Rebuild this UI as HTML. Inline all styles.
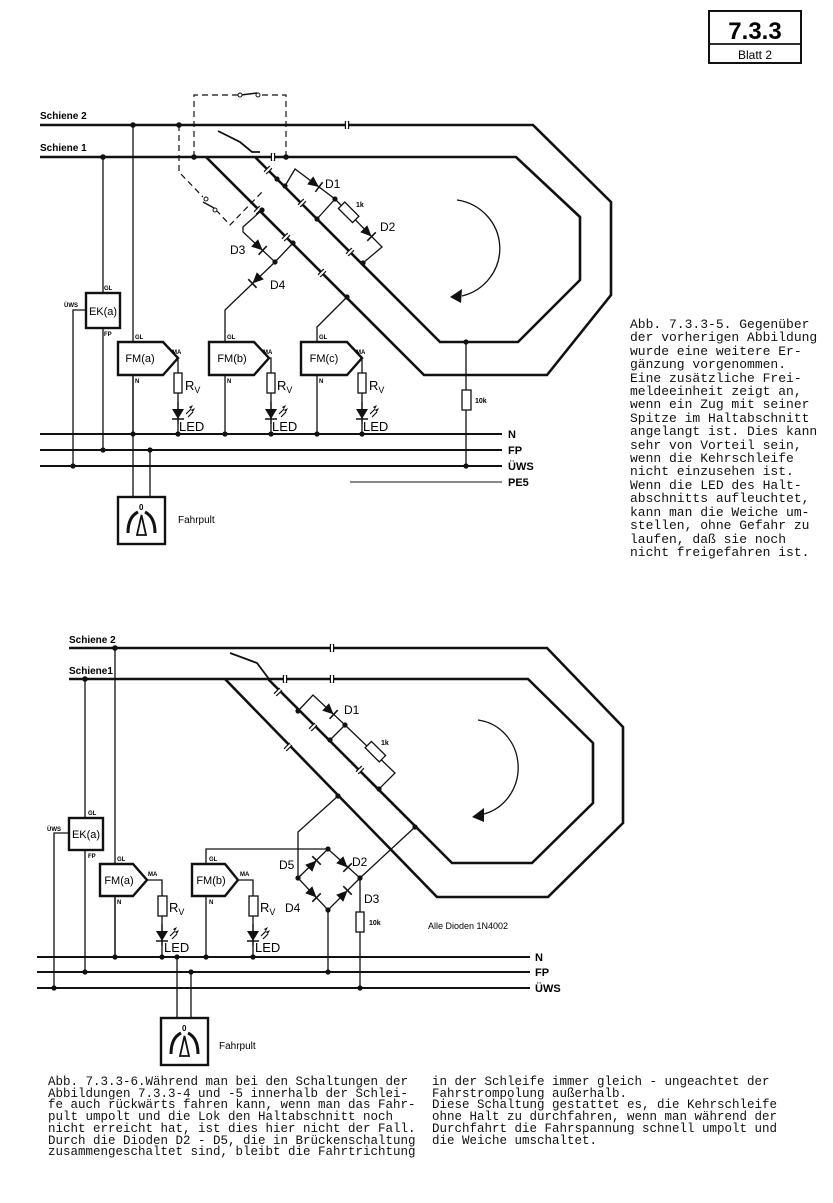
<!DOCTYPE html>
<html><head><meta charset="utf-8"><style>
html,body{margin:0;padding:0;background:#fff}
body{width:833px;height:1203px;position:relative;overflow:hidden}
svg{position:absolute;left:0;top:0}
.cap{position:absolute;font-family:"Liberation Mono",monospace;white-space:pre;color:#111}
</style></head><body>
<svg width="833" height="1203" viewBox="0 0 833 1203" xmlns="http://www.w3.org/2000/svg" font-family="Liberation Sans, sans-serif">
<defs>
<g id="dio"><polygon points="-6,-5 5,0 -6,5" fill="#111"/><line x1="5" y1="-6" x2="5" y2="6" stroke="#111" stroke-width="1.6"/></g>
<g id="gap"><line x1="-1.5" y1="-4" x2="-1.5" y2="4" stroke="#111" stroke-width="1.4"/><line x1="1.5" y1="-4" x2="1.5" y2="4" stroke="#111" stroke-width="1.4"/><rect x="-1" y="-3" width="2" height="6" fill="#fff"/></g>
<g id="led"><line x1="0" y1="-10" x2="0" y2="12" stroke="#111" stroke-width="1.3"/><polygon points="-6,-3 6,-3 0,7" fill="#111"/><line x1="-6" y1="7" x2="6" y2="7" stroke="#111" stroke-width="1.5"/><path d="M8,2 l5,-5 M10,5 l5,-5" stroke="#111" stroke-width="1.2"/><polygon points="13,-3 15,-7 11,-5" fill="#111"/><polygon points="15,0 17,-4 13,-2" fill="#111"/></g>
<g id="pult"><rect x="0" y="0" width="47" height="47" fill="#fff" stroke="#111" stroke-width="2.4"/><path d="M10,36 Q10,20 20,15 M37,36 Q37,20 27,15" fill="none" stroke="#111" stroke-width="3"/><polygon points="23.5,18 19,38 28,38" fill="none" stroke="#111" stroke-width="1.8"/><text x="21" y="13" font-size="8" font-weight="bold">0</text></g>
</defs>

<!-- header -->
<rect x="709" y="11" width="92" height="52" fill="#fff" stroke="#111" stroke-width="2"/>
<line x1="709" y1="44" x2="801" y2="44" stroke="#111" stroke-width="1.8"/>
<text x="755" y="39" font-size="24" font-weight="bold" text-anchor="middle">7.3.3</text>
<text x="755" y="59" font-size="12" text-anchor="middle">Blatt 2</text>

<!-- ============ TOP DIAGRAM ============ -->
<g fill="none" stroke="#111" stroke-width="2.6" stroke-linejoin="miter">
<polyline points="40,125 533,125 611,202 611,295 547,375 424,375 206,157"/>
<polyline points="40,157 516,157 580,217 580,280 518,342 440,342 255,157"/>
</g>
<text x="40" y="119" font-size="10" font-weight="bold">Schiene 2</text>
<text x="40" y="151" font-size="10" font-weight="bold">Schiene 1</text>
<use href="#gap" transform="translate(347,125)"/>
<use href="#gap" transform="translate(273,157)"/>
<use href="#gap" transform="translate(268,170) rotate(45)"/>
<use href="#gap" transform="translate(302,203) rotate(45)"/>
<use href="#gap" transform="translate(350,252) rotate(45)"/>
<use href="#gap" transform="translate(258,210) rotate(45)"/>
<use href="#gap" transform="translate(286,237) rotate(45)"/>
<use href="#gap" transform="translate(322,273) rotate(45)"/>
<!-- blade -->
<path d="M218,131 L240,142 L252,152 L260,152" fill="none" stroke="#111" stroke-width="1.8"/>
<!-- dashed -->
<g fill="none" stroke="#111" stroke-width="1.2" stroke-dasharray="6,4">
<polyline points="194,157 194,95 286,95 286,157"/>
<polyline points="179,125 179,172 203,197"/>
<polyline points="216,210 230,225 262,192"/>
</g>
<line x1="240" y1="95" x2="258" y2="95" stroke="#fff" stroke-width="3"/>
<line x1="241" y1="95" x2="257" y2="93" stroke="#111" stroke-width="1.4"/>
<circle cx="240" cy="95" r="2" fill="#fff" stroke="#111"/><circle cx="258" cy="95" r="2" fill="#fff" stroke="#111"/>
<line x1="203" y1="202" x2="214" y2="208" stroke="#111" stroke-width="1.4"/>
<circle cx="206" cy="199" r="2" fill="#fff" stroke="#111"/><circle cx="215" cy="210" r="2" fill="#fff" stroke="#111"/>
<!-- diodes net -->
<g fill="none" stroke="#111" stroke-width="1.3">
<polyline points="285,186 295,169 335,199 317,219"/>
<polyline points="335,199 382,247 363,263"/>
<polyline points="262,210 243,227 243,232 275,262 293,243"/>
<polyline points="275,262 225,310 225,342"/>
<polyline points="347,297 317,327 317,342"/>
<line x1="133" y1="125" x2="133" y2="497"/>
<line x1="150" y1="450" x2="150" y2="497"/>
<line x1="103" y1="157" x2="103" y2="293"/>
<line x1="103" y1="328" x2="103" y2="450"/>
<polyline points="86,310 73,310 73,466"/>
<line x1="466" y1="342" x2="466" y2="466"/>
<line x1="133" y1="375" x2="133" y2="434"/>
<line x1="225" y1="375" x2="225" y2="434"/>
<line x1="317" y1="375" x2="317" y2="434"/>
<polyline points="178,358 178,373"/><polyline points="269,358 271,358 271,373"/><polyline points="362,358 362,373"/>
<line x1="178" y1="393" x2="178" y2="434"/><line x1="271" y1="393" x2="271" y2="434"/><line x1="362" y1="393" x2="362" y2="434"/>
</g>
<rect x="339" y="208" width="20" height="9" transform="rotate(45 349 212)" fill="#fff" stroke="#111" stroke-width="1.3"/>
<text x="356" y="207" font-size="7" font-weight="bold">1k</text>
<use href="#dio" transform="translate(315,184) rotate(37)"/>
<use href="#dio" transform="translate(368,233) rotate(45)"/>
<use href="#dio" transform="translate(259,247) rotate(43)"/>
<use href="#dio" transform="translate(256,280) rotate(136)"/>
<g font-family="Liberation Sans Narrow, Liberation Sans, sans-serif" font-size="12">
<text x="325" y="188">D1</text><text x="380" y="231">D2</text><text x="230" y="254">D3</text><text x="270" y="289">D4</text>
</g>
<!-- arrow -->
<path d="M457,200 A50,49 0 0 1 462,296" fill="none" stroke="#111" stroke-width="1.3"/>
<polygon points="450,297 462,289 461,303" fill="#111"/>
<!-- EK -->
<rect x="86" y="293" width="34" height="35" fill="#fff" stroke="#111" stroke-width="2.4"/>
<text x="103" y="315" font-size="11" text-anchor="middle">EK(a)</text>
<g font-size="6" font-weight="bold"><text x="104" y="290">GL</text><text x="104" y="336">FP</text><text x="64" y="307">ÜWS</text></g>
<!-- FMs -->
<g fill="#fff" stroke="#111" stroke-width="2.4">
<polygon points="118,342 163,342 178,358 163,375 118,375"/>
<polygon points="209,342 254,342 269,358 254,375 209,375"/>
<polygon points="301,342 347,342 362,358 347,375 301,375"/>
</g>
<g font-size="11" text-anchor="middle"><text x="140" y="362">FM(a)</text><text x="232" y="362">FM(b)</text><text x="324" y="362">FM(c)</text></g>
<g font-size="6" font-weight="bold">
<text x="135" y="339">GL</text><text x="227" y="339">GL</text><text x="319" y="339">GL</text>
<text x="172" y="354">MA</text><text x="263" y="354">MA</text><text x="356" y="354">MA</text>
<text x="135" y="383">N</text><text x="227" y="383">N</text><text x="319" y="383">N</text>
</g>
<g fill="#fff" stroke="#111" stroke-width="1.3">
<rect x="174" y="373" width="8" height="20"/><rect x="267" y="373" width="8" height="20"/><rect x="358" y="373" width="8" height="20"/>
<rect x="462" y="390" width="9" height="20"/>
</g>
<text x="475" y="403" font-size="7" font-weight="bold">10k</text>
<g font-family="Liberation Sans Narrow, Liberation Sans, sans-serif" font-size="13">
<text x="185" y="390">R<tspan font-size="9" dy="3">V</tspan></text><text x="277" y="390">R<tspan font-size="9" dy="3">V</tspan></text><text x="369" y="390">R<tspan font-size="9" dy="3">V</tspan></text>
<text x="179" y="431">LED</text><text x="272" y="431">LED</text><text x="363" y="431">LED</text>
</g>
<use href="#led" transform="translate(178,412)"/><use href="#led" transform="translate(271,412)"/><use href="#led" transform="translate(362,412)"/>
<!-- buses -->
<g stroke="#111" stroke-width="2"><line x1="40" y1="434" x2="502" y2="434"/><line x1="40" y1="450" x2="502" y2="450"/><line x1="40" y1="466" x2="502" y2="466"/></g>
<line x1="350" y1="482" x2="502" y2="482" stroke="#111" stroke-width="1"/>
<g font-size="11" font-weight="bold"><text x="508" y="438">N</text><text x="508" y="454">FP</text><text x="508" y="470">ÜWS</text><text x="508" y="486">PE5</text></g>
<use href="#pult" transform="translate(118,497)"/>
<text x="178" y="523" font-size="10">Fahrpult</text>
<g fill="#111">
<circle cx="179" cy="125" r="2.8"/><circle cx="133" cy="125" r="2.8"/><circle cx="103" cy="157" r="2.8"/><circle cx="194" cy="157" r="2.8"/><circle cx="286" cy="157" r="2.8"/>
<circle cx="285" cy="186" r="2.6"/><circle cx="277" cy="179" r="2.6"/><circle cx="335" cy="199" r="2.6"/><circle cx="317" cy="219" r="2.6"/><circle cx="363" cy="263" r="2.6"/>
<circle cx="262" cy="210" r="2.6"/><circle cx="293" cy="243" r="2.6"/><circle cx="275" cy="262" r="2.6"/><circle cx="347" cy="297" r="2.6"/><circle cx="466" cy="342" r="2.6"/>
<circle cx="133" cy="434" r="2.6"/><circle cx="178" cy="434" r="2.6"/><circle cx="225" cy="434" r="2.6"/><circle cx="271" cy="434" r="2.6"/><circle cx="317" cy="434" r="2.6"/><circle cx="362" cy="434" r="2.6"/>
<circle cx="103" cy="450" r="2.6"/><circle cx="150" cy="450" r="2.6"/><circle cx="73" cy="466" r="2.6"/><circle cx="466" cy="466" r="2.6"/>
</g>

<!-- ============ BOTTOM DIAGRAM ============ -->
<g fill="none" stroke="#111" stroke-width="2.6">
<polyline points="69,648 547,648 623,727 623,823 548,897 437,897 225,679"/>
<polyline points="69,679 528,679 593,743 593,803 532,863 452,863 268,679"/>
</g>
<text x="69" y="643" font-size="10" font-weight="bold">Schiene 2</text>
<text x="69" y="674" font-size="10" font-weight="bold">Schiene1</text>
<use href="#gap" transform="translate(332,648)"/>
<use href="#gap" transform="translate(332,679)"/>
<use href="#gap" transform="translate(285,679)"/>
<use href="#gap" transform="translate(278,692) rotate(45)"/>
<use href="#gap" transform="translate(313,727) rotate(45)"/>
<use href="#gap" transform="translate(360,770) rotate(45)"/>
<use href="#gap" transform="translate(288,747) rotate(45)"/>
<path d="M230,653 L257,663 L272,683" fill="none" stroke="#111" stroke-width="1.8"/>
<g fill="none" stroke="#111" stroke-width="1.3">
<polyline points="298,711 313,695 345,725 330,740"/>
<polyline points="345,725 395,773 379,789"/>
<polyline points="338,796 298,832 298,878 328,910 360,878 328,849 298,878"/>
<polyline points="360,878 415,827"/>
<polyline points="206,896 206,849 328,849"/>
<line x1="328" y1="910" x2="328" y2="972"/>
<line x1="360" y1="878" x2="360" y2="988"/>
<line x1="115" y1="648" x2="115" y2="957"/>
<line x1="85" y1="679" x2="85" y2="818"/><line x1="85" y1="850" x2="85" y2="972"/>
<polyline points="69,833 54,833 54,988"/>
<line x1="115" y1="896" x2="115" y2="957"/>
<line x1="206" y1="896" x2="206" y2="957"/>
<polyline points="147,880 162,880 162,896"/><polyline points="238,880 253,880 253,896"/>
<line x1="162" y1="916" x2="162" y2="957"/><line x1="253" y1="916" x2="253" y2="957"/>
<line x1="177" y1="957" x2="177" y2="1018"/><line x1="191" y1="972" x2="191" y2="1018"/>
</g>
<rect x="365" y="747" width="20" height="9" transform="rotate(45 375 752)" fill="#fff" stroke="#111" stroke-width="1.3"/>
<text x="381" y="745" font-size="7" font-weight="bold">1k</text>
<use href="#dio" transform="translate(330,711) rotate(43)"/>
<use href="#dio" transform="translate(313,864) rotate(-45)"/>
<use href="#dio" transform="translate(344,864) rotate(45)"/>
<use href="#dio" transform="translate(313,894) rotate(45)"/>
<use href="#dio" transform="translate(344,894) rotate(-45)"/>
<g font-family="Liberation Sans Narrow, Liberation Sans, sans-serif" font-size="12">
<text x="344" y="714">D1</text><text x="352" y="866">D2</text><text x="364" y="903">D3</text><text x="279" y="869">D5</text><text x="285" y="912">D4</text>
</g>
<text x="428" y="929" font-size="9">Alle Dioden 1N4002</text>
<path d="M478,720 A46,48 0 0 1 484,814" fill="none" stroke="#111" stroke-width="1.3"/>
<polygon points="472,817 484,808 484,822" fill="#111"/>
<rect x="69" y="818" width="34" height="32" fill="#fff" stroke="#111" stroke-width="2.4"/>
<text x="86" y="838" font-size="11" text-anchor="middle">EK(a)</text>
<g font-size="6" font-weight="bold"><text x="88" y="815">GL</text><text x="88" y="858">FP</text><text x="47" y="831">ÜWS</text></g>
<g fill="#fff" stroke="#111" stroke-width="2.4">
<polygon points="100,864 133,864 147,880 133,896 100,896"/>
<polygon points="192,864 225,864 238,880 225,896 192,896"/>
</g>
<g font-size="11" text-anchor="middle"><text x="119" y="884">FM(a)</text><text x="211" y="884">FM(b)</text></g>
<g font-size="6" font-weight="bold">
<text x="117" y="861">GL</text><text x="209" y="861">GL</text>
<text x="148" y="876">MA</text><text x="240" y="876">MA</text>
<text x="117" y="904">N</text><text x="209" y="904">N</text>
</g>
<g fill="#fff" stroke="#111" stroke-width="1.3">
<rect x="158" y="896" width="9" height="20"/><rect x="249" y="896" width="9" height="20"/>
<rect x="356" y="912" width="8" height="20"/>
</g>
<text x="369" y="925" font-size="7" font-weight="bold">10k</text>
<g font-family="Liberation Sans Narrow, Liberation Sans, sans-serif" font-size="13">
<text x="169" y="912">R<tspan font-size="9" dy="3">V</tspan></text><text x="260" y="912">R<tspan font-size="9" dy="3">V</tspan></text>
<text x="164" y="952">LED</text><text x="255" y="952">LED</text>
</g>
<use href="#led" transform="translate(162,934)"/><use href="#led" transform="translate(253,934)"/>
<g stroke="#111" stroke-width="2"><line x1="37" y1="957" x2="530" y2="957"/><line x1="37" y1="972" x2="530" y2="972"/><line x1="37" y1="988" x2="530" y2="988"/></g>
<g font-size="11" font-weight="bold"><text x="535" y="961">N</text><text x="535" y="976">FP</text><text x="535" y="992">ÜWS</text></g>
<use href="#pult" transform="translate(161,1018)"/>
<text x="219" y="1049" font-size="10">Fahrpult</text>
<g fill="#111">
<circle cx="115" cy="648" r="2.8"/><circle cx="85" cy="679" r="2.8"/>
<circle cx="298" cy="711" r="2.6"/><circle cx="345" cy="725" r="2.6"/><circle cx="330" cy="740" r="2.6"/><circle cx="379" cy="789" r="2.6"/>
<circle cx="338" cy="796" r="2.6"/><circle cx="415" cy="827" r="2.6"/><circle cx="328" cy="849" r="2.6"/><circle cx="298" cy="878" r="2.6"/><circle cx="360" cy="878" r="2.6"/><circle cx="328" cy="910" r="2.6"/>
<circle cx="115" cy="957" r="2.6"/><circle cx="162" cy="957" r="2.6"/><circle cx="177" cy="957" r="2.6"/><circle cx="206" cy="957" r="2.6"/><circle cx="253" cy="957" r="2.6"/>
<circle cx="85" cy="972" r="2.6"/><circle cx="191" cy="972" r="2.6"/><circle cx="328" cy="972" r="2.6"/>
<circle cx="54" cy="988" r="2.6"/><circle cx="360" cy="988" r="2.6"/>
</g>
</svg>

<div class="cap" style="left:630px;top:318px;font-size:13px;line-height:13.4px;">Abb. 7.3.3-5. Gegenüber
der vorherigen Abbildung
wurde eine weitere Er-
gänzung vorgenommen.
Eine zusätzliche Frei-
meldeeinheit zeigt an,
wenn ein Zug mit seiner
Spitze im Haltabschnitt
angelangt ist. Dies kann
sehr von Vorteil sein,
wenn die Kehrschleife
nicht einzusehen ist.
Wenn die LED des Halt-
abschnitts aufleuchtet,
kann man die Weiche um-
stellen, ohne Gefahr zu
laufen, daß sie noch
nicht freigefahren ist.</div>

<div class="cap" style="left:48px;top:1077px;font-size:12.5px;line-height:11.7px;">Abb. 7.3.3-6.Während man bei den Schaltungen der
Abbildungen 7.3.3-4 und -5 innerhalb der Schlei-
fe auch rückwärts fahren kann, wenn man das Fahr-
pult umpolt und die Lok den Haltabschnitt noch
nicht erreicht hat, ist dies hier nicht der Fall.
Durch die Dioden D2 - D5, die in Brückenschaltung
zusammengeschaltet sind, bleibt die Fahrtrichtung</div>

<div class="cap" style="left:432px;top:1077px;font-size:12.5px;line-height:11.7px;">in der Schleife immer gleich - ungeachtet der
Fahrstrompolung außerhalb.
Diese Schaltung gestattet es, die Kehrschleife
ohne Halt zu durchfahren, wenn man während der
Durchfahrt die Fahrspannung schnell umpolt und
die Weiche umschaltet.</div>
</body></html>
